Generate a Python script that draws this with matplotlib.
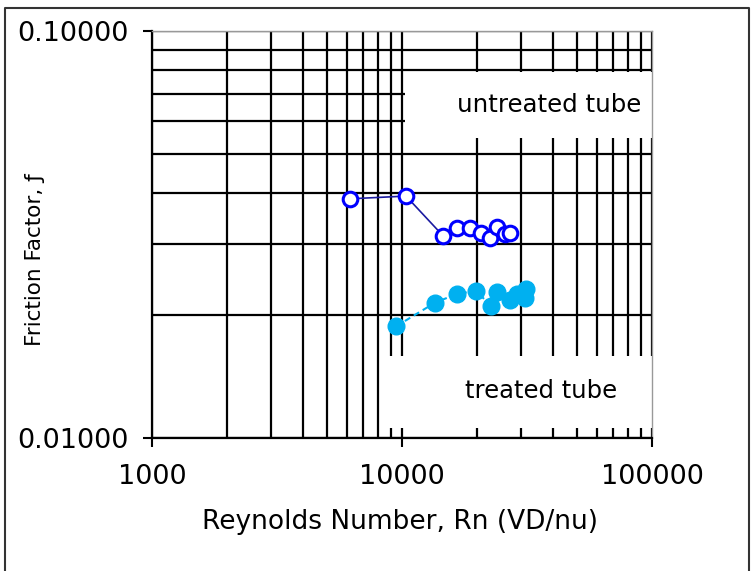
import matplotlib
matplotlib.use("Agg")
import matplotlib.pyplot as plt
from matplotlib.ticker import FixedLocator, LogLocator, NullFormatter, FixedFormatter
from matplotlib.patches import Rectangle
from matplotlib.lines import Line2D

# Data
re_untreated = [6194, 10375, 14588, 16596, 18707, 20701, 22491, 23988, 25823, 27040]
f_untreated = [0.0387, 0.0393, 0.0314, 0.0328, 0.0328, 0.0319, 0.0310, 0.0330, 0.0318, 0.0319]

re_treated = [9462, 13552, 16596, 19770, 22699, 23988, 27040, 28840, 31046, 31333]
f_treated = [0.0188, 0.0215, 0.0226, 0.0230, 0.0211, 0.0228, 0.0218, 0.0226, 0.0221, 0.0232]

x_ticks = [1000, 10000, 100000]
x_tick_labels = ["1000", "10000", "100000"]
y_ticks = [0.01, 0.1]
y_tick_labels = ["0.01000", "0.10000"]

x_label = "Reynolds Number, Rn (VD/nu)"
y_label = "Friction Factor, ƒ"
label_untreated = "untreated tube"
label_treated = "treated tube"

W, H = 751, 571
fig = plt.figure(figsize=(W / 100, H / 100), dpi=100)
ax = fig.add_axes([152 / W, 1 - 438 / H, 500 / W, 407 / H])
ax.set_xscale("log")
ax.set_yscale("log")
ax.set_xlim(1000, 100000)
ax.set_ylim(0.01, 0.1)

ax.xaxis.set_major_locator(FixedLocator(x_ticks))
ax.xaxis.set_major_formatter(FixedFormatter(x_tick_labels))
ax.yaxis.set_major_locator(FixedLocator(y_ticks))
ax.yaxis.set_major_formatter(FixedFormatter(y_tick_labels))
ax.xaxis.set_minor_locator(LogLocator(base=10, subs=range(2, 10)))
ax.yaxis.set_minor_locator(LogLocator(base=10, subs=range(2, 10)))
ax.xaxis.set_minor_formatter(NullFormatter())
ax.yaxis.set_minor_formatter(NullFormatter())

ax.grid(True, which="both", color="black", linewidth=1.6)
ax.tick_params(which="major", direction="out", length=6.5, width=1.5, labelsize=19.5,
               colors="black")
ax.tick_params(axis="y", which="major", pad=10)
ax.tick_params(axis="x", which="major", pad=12)
ax.tick_params(which="minor", length=0)

for s in ["left", "bottom"]:
    ax.spines[s].set_color("black")
    ax.spines[s].set_linewidth(1.6)
for s in ["top", "right"]:
    ax.spines[s].set_color("#999999")
    ax.spines[s].set_linewidth(1.0)

# white boxes behind labels
ax.add_patch(Rectangle(((405 - 152) / 500, (438 - 138) / 407), 1 - (405 - 152) / 500,
                       (138 - 72) / 407, transform=ax.transAxes, facecolor="white",
                       edgecolor="none", zorder=2))
ax.add_patch(Rectangle(((381 - 152) / 500, (438 - 428) / 407), 1 - (381 - 152) / 500,
                       (428 - 356) / 407, transform=ax.transAxes, facecolor="white",
                       edgecolor="none", zorder=2))
ax.text((549 - 152) / 500, (438 - 104.5) / 407, label_untreated, transform=ax.transAxes,
        ha="center", va="center", fontsize=17.6, zorder=3)
ax.text((541 - 152) / 500, (438 - 391) / 407, label_treated, transform=ax.transAxes,
        ha="center", va="center", fontsize=17.5, zorder=3)

ax.plot(re_untreated, f_untreated, color="#1a1aa0", linewidth=1.2, marker="o",
        markersize=10.5, markerfacecolor="white", markeredgecolor="#0000ff",
        markeredgewidth=2.2, zorder=4, clip_on=False)
ax.plot(re_treated, f_treated, color="#00b0f0", linewidth=1.5, linestyle=(0, (3, 2)),
        marker="o", markersize=12, markerfacecolor="#00b0f0", markeredgecolor="#00b0f0",
        zorder=4, clip_on=False)

fig.text(400 / W, 1 - 522 / H, x_label, ha="center", va="center", fontsize=19)
fig.text(35 / W, 1 - 260 / H, y_label, ha="center", va="center", fontsize=15.5,
         rotation=90)

# outer frame
fig.add_artist(Line2D([5 / W, 5 / W, 749 / W, 749 / W], [0, 1 - 8 / H, 1 - 8 / H, 0],
                      transform=fig.transFigure, color="#333333", linewidth=1.5))

fig.savefig("out.png", dpi=100)
